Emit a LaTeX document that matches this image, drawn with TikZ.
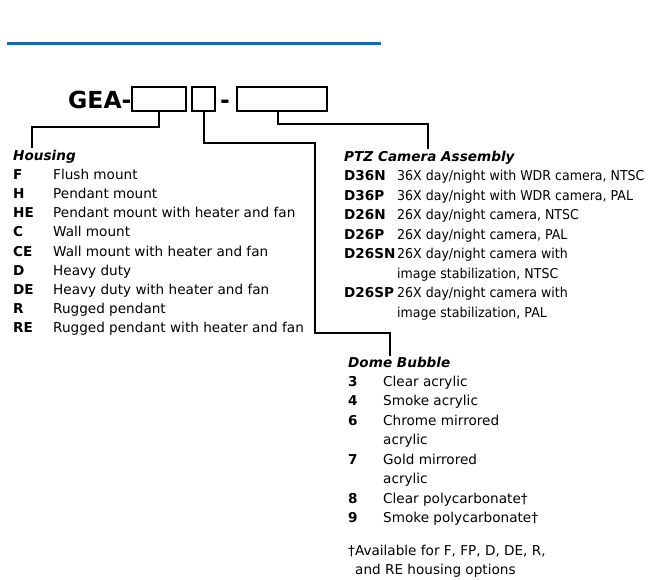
\documentclass[tikz,border=0pt]{standalone}
\usepackage{fontspec}
\setmainfont{DejaVu Sans}
\newfontfamily\narrowfont[FakeStretch=0.925]{DejaVu Sans}
\definecolor{geblue}{RGB}{22,102,178}
\begin{document}
\begin{tikzpicture}[
    x=1pt, y=-1pt,
    lead/.style={line width=1.6pt, line cap=rect},
    slot/.style={draw, line width=1.6pt, inner sep=0},
    title/.style={anchor=base west, inner sep=0, font=\fontsize{13.6}{16}\selectfont\bfseries\itshape},
    code/.style={anchor=base west, inner sep=0, font=\fontsize{13.6}{16}\selectfont\bfseries},
    item/.style={anchor=base west, inner sep=0, font=\fontsize{13.6}{16}\selectfont},
    pitem/.style={item, font=\fontsize{13.6}{16}\selectfont\narrowfont}
]
    \useasboundingbox (0,0) rectangle (651,579);

    % --- Rule ---
    \draw[geblue, line width=2.8pt] (7,43.5) -- (381,43.5);

    % --- Part number ---
    \node[anchor=base west, inner sep=0, font=\fontsize{23.5}{28}\selectfont\bfseries] (gea) at (68,108) {GEA-};
    \draw[slot] (132,87) rectangle (186,111);
    \node (hbox) at (159,99) {};
    \draw[slot] (192,87) rectangle (215,111);
    \node (dbox) at (203.5,99) {};
    \node[anchor=base, inner sep=0, font=\fontsize{23.5}{28}\selectfont\bfseries] (dash) at (225,108) {-};
    \draw[slot] (237,87) rectangle (327,111);
    \node (cbox) at (282,99) {};
    \coordinate (hbot) at (159,111);
    \coordinate (dbot) at (204,111);
    \coordinate (cbot) at (278,111);

    % --- Leads ---
    \coordinate (hend) at (32,147);
    \coordinate (cend) at (428,148);
    \coordinate (dend) at (390,355);
    \draw[lead] (hbot) -- ++(0,16) -| (hend);
    \draw[lead] (cbot) -- ++(0,13) -| (cend);
    \draw[lead] (dbot) -- ++(0,32) -- ++(111,0) -- ++(0,190) -| (dend);

    % --- Housing ---
    \node[title] (hous) at (13,160) {Housing};
    \foreach \c/\t [count=\i] in {F/Flush mount, H/Pendant mount,
        HE/Pendant mount with heater and fan, C/Wall mount,
        CE/Wall mount with heater and fan, D/Heavy duty,
        DE/Heavy duty with heater and fan, R/Rugged pendant,
        RE/Rugged pendant with heater and fan}{
        \node[code] (hc\i) at (13,160+19.2*\i) {\c};
        \node[item] (ht\i) at (53,160+19.2*\i) {\t};
    }

    % --- PTZ Camera Assembly ---
    \node[title] (ptz) at (344,161) {PTZ Camera Assembly};
    \node[code] (pc1) at (344,180.5) {D36N};
    \node[pitem] (pt1) at (397,180.5) {36X day/night with WDR camera, NTSC};
    \node[code] (pc2) at (344,200) {D36P};
    \node[pitem] (pt2) at (397,200) {36X day/night with WDR camera, PAL};
    \node[code] (pc3) at (344,219.5) {D26N};
    \node[pitem] (pt3) at (397,219.5) {26X day/night camera, NTSC};
    \node[code] (pc4) at (344,239) {D26P};
    \node[pitem] (pt4) at (397,239) {26X day/night camera, PAL};
    \node[code] (pc5) at (344,258.5) {D26SN};
    \node[pitem] (pt5) at (397,258.5) {26X day/night camera with};
    \node[pitem] (pt5b) at (397,278) {image stabilization, NTSC};
    \node[code] (pc6) at (344,297.5) {D26SP};
    \node[pitem] (pt6) at (397,297.5) {26X day/night camera with};
    \node[pitem] (pt6b) at (397,317) {image stabilization, PAL};

    % --- Dome Bubble ---
    \node[title] (dome) at (348,367) {Dome Bubble};
    \node[code] (dc1) at (348,386) {3};
    \node[item] (dt1) at (383,386) {Clear acrylic};
    \node[code] (dc2) at (348,405.5) {4};
    \node[item] (dt2) at (383,405.5) {Smoke acrylic};
    \node[code] (dc3) at (348,425) {6};
    \node[item] (dt3) at (383,425) {Chrome mirrored};
    \node[item] (dt3b) at (383,444.5) {acrylic};
    \node[code] (dc4) at (348,464) {7};
    \node[item] (dt4) at (383,464) {Gold mirrored};
    \node[item] (dt4b) at (383,483.5) {acrylic};
    \node[code] (dc5) at (348,503) {8};
    \node[item] (dt5) at (383,503) {Clear polycarbonate\textdagger};
    \node[code] (dc6) at (348,522.5) {9};
    \node[item] (dt6) at (383,522.5) {Smoke polycarbonate\textdagger};
    \node[item] (note1) at (348,555) {\textdagger Available for F, FP, D, DE, R,};
    \node[item] (note2) at (355,574) {and RE housing options};
\end{tikzpicture}
\end{document}
